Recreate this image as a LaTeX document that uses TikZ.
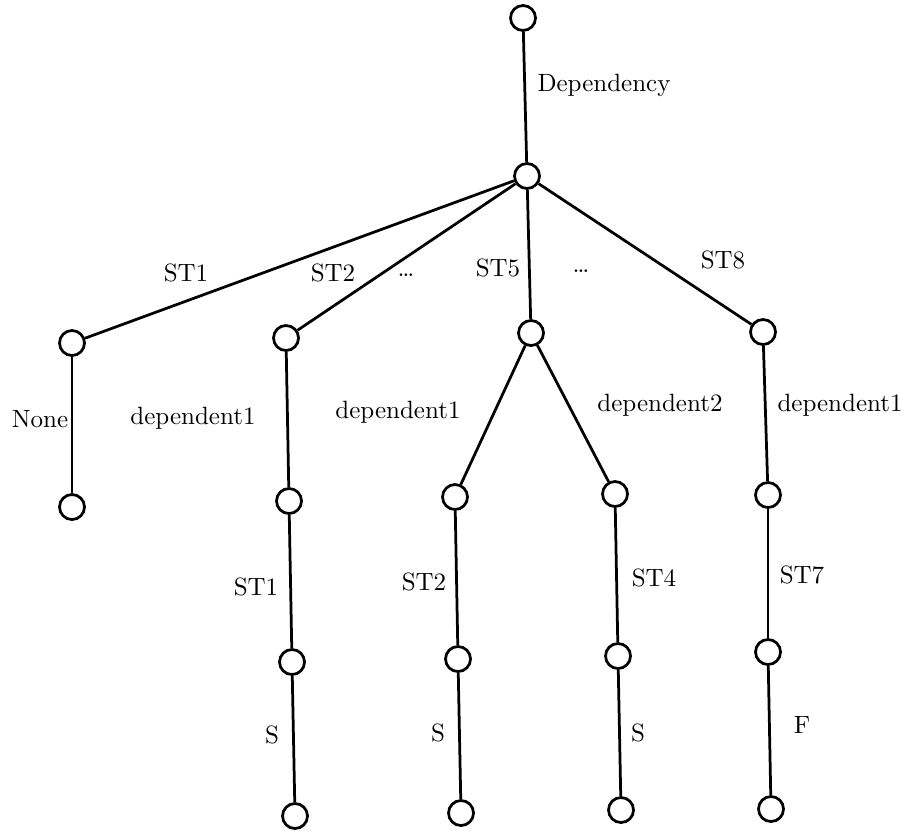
\documentclass[tikz,border=0pt]{standalone}
\usepackage{tikz}
\begin{document}
\begin{tikzpicture}[x=0.4pt,y=-0.4pt,
  vtx/.style={circle,draw,line width=1.1pt,minimum size=10pt,inner sep=0pt},
  edge/.style={line width=1.1pt},
  lbl/.style={inner sep=0pt,font=\normalsize}]
\useasboundingbox (0,0) rectangle (905,833);
% vertices
\node[vtx] (root) at (523,18) {};
\node[vtx] (dep)  at (527,176) {};
\node[vtx] (a)  at (72,343) {};
\node[vtx] (b)  at (286,338) {};
\node[vtx] (c)  at (531,333) {};
\node[vtx] (d)  at (763,332) {};
\node[vtx] (a1) at (72,507) {};
\node[vtx] (b1) at (289,501) {};
\node[vtx] (b2) at (292,662) {};
\node[vtx] (b3) at (295,816) {};
\node[vtx] (c1) at (455,497) {};
\node[vtx] (c2) at (458,659) {};
\node[vtx] (c3) at (461,813) {};
\node[vtx] (e1) at (615,494) {};
\node[vtx] (e2) at (618,656) {};
\node[vtx] (e3) at (621,810) {};
\node[vtx] (d1) at (768,495) {};
\node[vtx] (d2) at (768,652) {};
\node[vtx] (d3) at (771,809) {};
% edges
\draw[edge] (root) -- (dep);
\draw[edge] (dep) -- (a);
\draw[edge] (dep) -- (b);
\draw[edge] (dep) -- (c);
\draw[edge] (dep) -- (d);
\draw[edge] (a) -- (a1);
\draw[edge] (b) -- (b1);
\draw[edge] (b1) -- (b2);
\draw[edge] (b2) -- (b3);
\draw[edge] (c) -- (c1);
\draw[edge] (c1) -- (c2);
\draw[edge] (c2) -- (c3);
\draw[edge] (c) -- (e1);
\draw[edge] (e1) -- (e2);
\draw[edge] (e2) -- (e3);
\draw[edge] (d) -- (d1);
\draw[edge] (d1) -- (d2);
\draw[edge] (d2) -- (d3);
% labels
\node[lbl] (tDep) at (604,85) {Dependency};
\node[lbl] (tA) at (186,273) {ST1};
\node[lbl] (tB) at (333,273) {ST2};
\node[lbl] (tDots1) at (406,275) {\dots};
\node[lbl] (tC) at (498,268) {ST5};
\node[lbl] (tDots2) at (581,271) {\dots};
\node[lbl] (tD) at (723,260) {ST8};
\node[lbl] (tNone) at (40,419) {None};
\node[lbl] (tB1) at (193,418) {dependent1};
\node[lbl] (tC1) at (398,412) {dependent1};
\node[lbl] (tE1) at (660,405) {dependent2};
\node[lbl] (tD1) at (840,405) {dependent1};
\node[lbl] (tB2) at (256,587) {ST1};
\node[lbl] (tC2) at (424,582) {ST2};
\node[lbl] (tE2) at (654,578) {ST4};
\node[lbl] (tD2) at (802,575) {ST7};
\node[lbl] (tB3) at (272,735) {S};
\node[lbl] (tC3) at (438,733) {S};
\node[lbl] (tE3) at (638,733) {S};
\node[lbl] (tD3) at (802,725) {F};
\end{tikzpicture}
\end{document}
